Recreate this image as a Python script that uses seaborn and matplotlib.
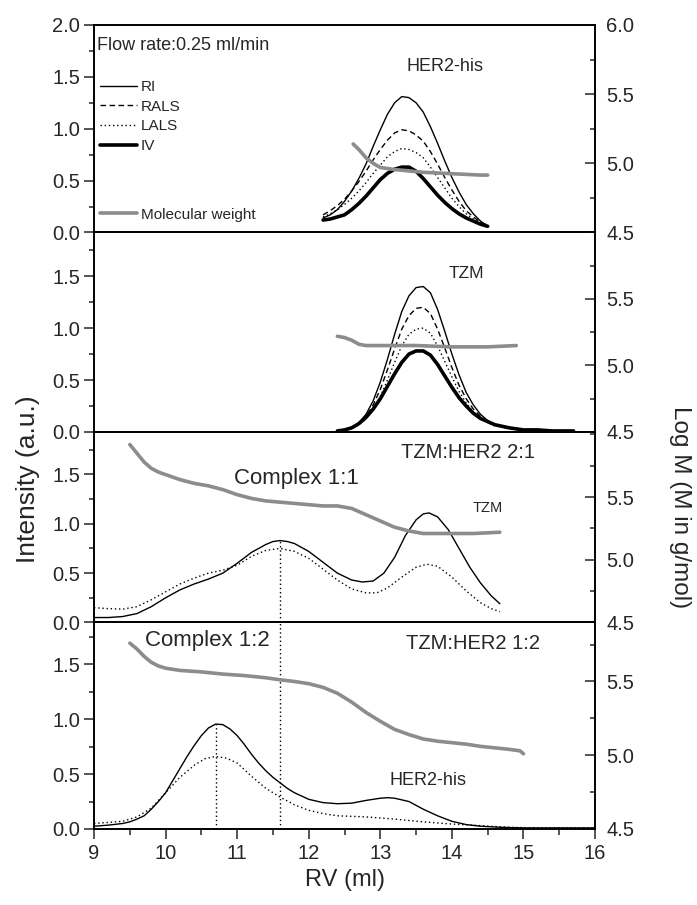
import numpy as np
import matplotlib
matplotlib.use("Agg")
import matplotlib.pyplot as plt
from matplotlib.ticker import MultipleLocator, FixedLocator, FormatStrFormatter
import seaborn as sns

sns.set_theme(style="ticks")
plt.rcParams['font.family'] = ['Liberation Sans', 'DejaVu Sans']

#-----------------------------------------------------------------------
# panel 1: HER2-his
rv_her2 = [12.2, 12.3, 12.4, 12.5, 12.6, 12.7, 12.8, 12.9, 13.0, 13.1, 13.2, 13.3,
           13.4, 13.5, 13.6, 13.7, 13.8, 13.9, 14.0, 14.1, 14.2, 14.3, 14.4, 14.5]
her2_ri = [0.14, 0.17, 0.22, 0.30, 0.40, 0.52, 0.66, 0.83, 0.99, 1.14, 1.25, 1.31,
           1.30, 1.25, 1.16, 1.02, 0.86, 0.69, 0.53, 0.39, 0.27, 0.18, 0.11, 0.06]
her2_rals = [0.17, 0.21, 0.26, 0.32, 0.40, 0.49, 0.59, 0.70, 0.80, 0.89, 0.96, 0.99,
             0.98, 0.94, 0.88, 0.78, 0.66, 0.53, 0.41, 0.30, 0.21, 0.15, 0.10, 0.07]
her2_lals = [0.15, 0.18, 0.22, 0.27, 0.33, 0.40, 0.48, 0.57, 0.65, 0.73, 0.78, 0.81,
             0.80, 0.77, 0.72, 0.63, 0.53, 0.43, 0.33, 0.25, 0.18, 0.13, 0.09, 0.06]
her2_iv = [0.12, 0.13, 0.15, 0.17, 0.22, 0.28, 0.35, 0.43, 0.51, 0.57, 0.61, 0.63,
           0.63, 0.59, 0.52, 0.44, 0.36, 0.29, 0.23, 0.18, 0.14, 0.11, 0.08, 0.06]
rv_her2_mw = [12.62, 12.7, 12.8, 12.9, 13.0, 13.2, 13.4, 13.6, 13.8, 14.0, 14.2, 14.4, 14.5]
her2_mw = [5.14, 5.10, 5.04, 5.00, 4.97, 4.955, 4.945, 4.935, 4.93, 4.925, 4.92, 4.915, 4.915]

#-----------------------------------------------------------------------
# panel 2: TZM
rv_tzm = [12.4, 12.5, 12.6, 12.7, 12.8, 12.9, 13.0, 13.1, 13.2, 13.3, 13.4, 13.5, 13.6,
          13.7, 13.8, 13.9, 14.0, 14.1, 14.2, 14.3, 14.4, 14.5, 14.6, 14.8, 15.0, 15.2, 15.4, 15.7]
tzm_ri = [0.01, 0.02, 0.04, 0.09, 0.17, 0.30, 0.48, 0.70, 0.94, 1.16, 1.31, 1.39, 1.40,
          1.34, 1.18, 0.97, 0.75, 0.55, 0.38, 0.26, 0.17, 0.11, 0.07, 0.04, 0.02, 0.01, 0.01, 0.0]
tzm_rals = [0.01, 0.02, 0.04, 0.08, 0.15, 0.26, 0.41, 0.60, 0.80, 0.99, 1.12, 1.19, 1.20,
            1.14, 0.99, 0.81, 0.62, 0.45, 0.32, 0.22, 0.15, 0.10, 0.07, 0.04, 0.02, 0.01, 0.01, 0.0]
tzm_lals = [0.01, 0.02, 0.03, 0.07, 0.13, 0.22, 0.34, 0.50, 0.67, 0.83, 0.94, 0.99, 1.00,
            0.95, 0.83, 0.68, 0.53, 0.39, 0.28, 0.19, 0.13, 0.09, 0.06, 0.04, 0.02, 0.01, 0.01, 0.0]
tzm_iv = [0.01, 0.02, 0.04, 0.08, 0.14, 0.22, 0.32, 0.44, 0.56, 0.67, 0.75, 0.78, 0.78,
          0.74, 0.65, 0.54, 0.43, 0.33, 0.25, 0.18, 0.13, 0.10, 0.07, 0.04, 0.02, 0.02, 0.01, 0.01]
rv_tzm_mw = [12.4, 12.5, 12.6, 12.7, 12.8, 13.0, 13.5, 14.0, 14.5, 14.9]
tzm_mw = [5.22, 5.21, 5.19, 5.16, 5.15, 5.15, 5.15, 5.14, 5.14, 5.15]

#-----------------------------------------------------------------------
# panel 3: TZM:HER2 2:1
rv_c21 = [9.0, 9.2, 9.4, 9.6, 9.8, 10.0, 10.2, 10.4, 10.6, 10.8, 11.0, 11.2, 11.4, 11.5,
          11.6, 11.7, 11.8, 12.0, 12.2, 12.4, 12.6, 12.75, 12.9, 13.05, 13.2, 13.35, 13.5,
          13.6, 13.68, 13.8, 13.95, 14.1, 14.25, 14.4, 14.55, 14.67]
c21_ri = [0.05, 0.05, 0.06, 0.09, 0.16, 0.25, 0.33, 0.39, 0.44, 0.50, 0.60, 0.71, 0.79, 0.82,
          0.83, 0.82, 0.80, 0.72, 0.61, 0.50, 0.43, 0.41, 0.42, 0.50, 0.66, 0.88, 1.04,
          1.10, 1.11, 1.07, 0.94, 0.75, 0.56, 0.40, 0.27, 0.19]
rv_c21_ls = [9.0, 9.2, 9.4, 9.6, 9.8, 10.0, 10.2, 10.4, 10.6, 10.8, 11.0, 11.2, 11.4, 11.6,
             11.8, 12.0, 12.2, 12.4, 12.6, 12.8, 12.95, 13.1, 13.3, 13.5, 13.65, 13.8, 14.0,
             14.2, 14.4, 14.55, 14.67]
c21_lals = [0.15, 0.14, 0.135, 0.16, 0.23, 0.31, 0.39, 0.45, 0.50, 0.53, 0.58, 0.67, 0.73, 0.75,
            0.72, 0.65, 0.54, 0.43, 0.34, 0.30, 0.30, 0.35, 0.46, 0.56, 0.59, 0.57, 0.46,
            0.32, 0.20, 0.14, 0.11]
rv_c21_mw = [9.5, 9.6, 9.7, 9.8, 9.9, 10.0, 10.2, 10.4, 10.6, 10.8, 11.0, 11.2, 11.4, 11.6,
             11.8, 12.0, 12.2, 12.4, 12.6, 12.8, 13.0, 13.2, 13.4, 13.6, 13.8, 14.0, 14.3, 14.67]
c21_mw = [5.92, 5.85, 5.78, 5.73, 5.70, 5.68, 5.64, 5.61, 5.59, 5.56, 5.52, 5.49, 5.47, 5.46,
          5.45, 5.44, 5.43, 5.43, 5.41, 5.36, 5.31, 5.26, 5.23, 5.21, 5.21, 5.21, 5.21, 5.22]

#-----------------------------------------------------------------------
# panel 4: TZM:HER2 1:2
rv_c12 = [9.0, 9.2, 9.4, 9.5, 9.6, 9.7, 9.8, 9.9, 10.0, 10.1, 10.2, 10.3, 10.4, 10.5, 10.6,
          10.7, 10.8, 10.9, 11.0, 11.1, 11.2, 11.3, 11.4, 11.5, 11.6, 11.7, 11.8, 12.0, 12.2,
          12.4, 12.6, 12.8, 13.0, 13.1, 13.2, 13.4, 13.6, 13.8, 14.0, 14.2, 14.4, 14.7, 15.0, 16.0]
c12_ri = [0.025, 0.035, 0.05, 0.065, 0.09, 0.12, 0.18, 0.25, 0.33, 0.44, 0.55, 0.66, 0.76, 0.85,
          0.92, 0.955, 0.95, 0.91, 0.85, 0.77, 0.68, 0.60, 0.53, 0.47, 0.42, 0.37, 0.33, 0.27,
          0.24, 0.23, 0.235, 0.26, 0.28, 0.285, 0.28, 0.25, 0.18, 0.12, 0.07, 0.04, 0.025,
          0.015, 0.01, 0.01]
rv_c12_ls = [9.0, 9.2, 9.4, 9.6, 9.8, 10.0, 10.2, 10.4, 10.55, 10.7, 10.85, 11.0, 11.2, 11.4,
             11.6, 11.8, 12.0, 12.2, 12.4, 12.8, 13.2, 13.6, 14.0, 14.4, 14.8, 15.2, 16.0]
c12_lals = [0.05, 0.06, 0.07, 0.11, 0.19, 0.33, 0.47, 0.58, 0.64, 0.66, 0.645, 0.60, 0.48, 0.37,
            0.29, 0.22, 0.17, 0.14, 0.12, 0.11, 0.09, 0.065, 0.045, 0.03, 0.015, 0.01, 0.01]
rv_c12_mw = [9.5, 9.6, 9.7, 9.8, 9.9, 10.0, 10.2, 10.5, 10.8, 11.1, 11.4, 11.62, 11.8, 12.0,
             12.2, 12.4, 12.6, 12.8, 13.0, 13.2, 13.4, 13.6, 13.8, 14.0, 14.2, 14.4, 14.6,
             14.8, 14.95, 15.0]
c12_mw = [5.76, 5.72, 5.67, 5.63, 5.605, 5.59, 5.575, 5.565, 5.55, 5.54, 5.525, 5.51, 5.50,
          5.485, 5.46, 5.42, 5.36, 5.29, 5.23, 5.175, 5.14, 5.11, 5.095, 5.085, 5.075, 5.06,
          5.05, 5.04, 5.03, 5.01]

#-----------------------------------------------------------------------
fig = plt.figure(figsize=(6.97, 9.05), dpi=100)
gs = fig.add_gridspec(4, 1, height_ratios=[207, 199, 190, 206], hspace=0,
                      left=0.1349, right=0.8537, top=0.9724, bottom=0.084)
axes = [fig.add_subplot(gs[i]) for i in range(4)]
twins = [a.twinx() for a in axes]

grey = '#8c8c8c'
dashed = (0, (4, 2.5))
dotted = (0, (1, 2))

def curve(ax, x, y, ls='-', lw=1.0, color='black'):
    sns.lineplot(x=x, y=y, ax=ax, color=color, linestyle=ls, linewidth=lw, sort=False,
                 estimator=None)
    return ax.lines[-1]

# panel 1
ax, tw = axes[0], twins[0]
h_ri = curve(ax, rv_her2, her2_ri)
h_rals = curve(ax, rv_her2, her2_rals, ls=dashed)
h_lals = curve(ax, rv_her2, her2_lals, ls=dotted)
h_iv = curve(ax, rv_her2, her2_iv, lw=2.6)
h_mw = curve(tw, rv_her2_mw, her2_mw, color=grey, lw=2.6)

# panel 2
ax, tw = axes[1], twins[1]
curve(ax, rv_tzm, tzm_ri)
curve(ax, rv_tzm, tzm_rals, ls=dashed)
curve(ax, rv_tzm, tzm_lals, ls=dotted)
curve(ax, rv_tzm, tzm_iv, lw=2.6)
curve(tw, rv_tzm_mw, tzm_mw, color=grey, lw=2.6)

# panel 3
ax, tw = axes[2], twins[2]
curve(ax, rv_c21, c21_ri)
curve(ax, rv_c21_ls, c21_lals, ls=dotted)
curve(tw, rv_c21_mw, c21_mw, color=grey, lw=2.6)

# panel 4
ax, tw = axes[3], twins[3]
curve(ax, rv_c12, c12_ri)
curve(ax, rv_c12_ls, c12_lals, ls=dotted)
curve(tw, rv_c12_mw, c12_mw, color=grey, lw=2.6)

# dotted guide lines at the complex peaks
i1 = int(np.argmax(c21_ri[:20]))
i2 = int(np.argmax(c12_ri))
left_top = [2.0, 1.92, 1.93, 1.88]
right_top = [6.0, 6.0, 6.02, 5.9]
axes[2].vlines(rv_c21[i1], 0, c21_ri[i1], colors='black', linestyles=dotted, lw=1.0)
axes[3].vlines(rv_c21[i1], 0, left_top[3], colors='black', linestyles=dotted, lw=1.0)
axes[3].vlines(rv_c12[i2], 0, c12_ri[i2], colors='black', linestyles=dotted, lw=1.0)

# limits and ticks
for i, (ax, tw) in enumerate(zip(axes, twins)):
    ax.set_xlim(9, 16)
    ax.set_ylim(0, left_top[i])
    tw.set_ylim(4.5, right_top[i])
    if i == 0:
        ax.yaxis.set_major_locator(FixedLocator([0, 0.5, 1.0, 1.5, 2.0]))
        tw.yaxis.set_major_locator(FixedLocator([4.5, 5.0, 5.5, 6.0]))
    else:
        ax.yaxis.set_major_locator(FixedLocator([0, 0.5, 1.0, 1.5]))
        tw.yaxis.set_major_locator(FixedLocator([4.5, 5.0, 5.5]))
    ax.yaxis.set_minor_locator(MultipleLocator(0.25))
    tw.yaxis.set_minor_locator(MultipleLocator(0.25))
    ax.yaxis.set_major_formatter(FormatStrFormatter('%.1f'))
    tw.yaxis.set_major_formatter(FormatStrFormatter('%.1f'))
    ax.tick_params(axis='y', which='major', direction='out', length=7, width=1.1,
                   labelsize=14.5, pad=3)
    ax.tick_params(axis='y', which='minor', direction='out', length=3.5, width=1.1)
    tw.tick_params(axis='y', which='major', direction='in', length=7, width=1.1,
                   labelsize=14.5, pad=8)
    tw.tick_params(axis='y', which='minor', direction='in', length=3.5, width=1.1)
    ax.set_xlabel('')
    ax.set_ylabel('')
    tw.set_ylabel('')
    for a in (ax, tw):
        for s in a.spines.values():
            s.set_linewidth(1.2)
            s.set_color('black')
    if i < 3:
        ax.tick_params(axis='x', which='both', bottom=False, labelbottom=False)
    else:
        ax.xaxis.set_major_locator(MultipleLocator(1))
        ax.xaxis.set_minor_locator(MultipleLocator(0.5))
        ax.tick_params(axis='x', which='major', direction='out', length=7, width=1.1,
                       labelsize=14.5, pad=4)
        ax.tick_params(axis='x', which='minor', direction='out', length=4, width=1.1)

# texts
a0 = axes[0]
a0.text(9.04, 1.80, 'Flow rate:0.25 ml/min', fontsize=13, va='center', ha='left')
a0.text(13.9, 1.60, 'HER2-his', fontsize=13, va='center', ha='center')
axes[1].text(14.2, 1.53, 'TZM', fontsize=12.5, va='center', ha='center')
axes[2].text(14.23, 1.72, 'TZM:HER2 2:1', fontsize=14.5, va='center', ha='center')
axes[2].text(11.83, 1.46, 'Complex 1:1', fontsize=16, va='center', ha='center')
axes[2].text(14.5, 1.16, 'TZM', fontsize=10.5, va='center', ha='center')
axes[3].text(10.59, 1.72, 'Complex 1:2', fontsize=16, va='center', ha='center')
axes[3].text(14.29, 1.69, 'TZM:HER2 1:2', fontsize=14.5, va='center', ha='center')
axes[3].text(13.67, 0.44, 'HER2-his', fontsize=13, va='center', ha='center')

# legends
tw0 = twins[0]
leg1 = tw0.legend(handles=[h_ri, h_rals, h_lals, h_iv], labels=['RI', 'RALS', 'LALS', 'IV'],
                  loc='upper left', bbox_to_anchor=(0.012, 0.735), frameon=False,
                  fontsize=11, handlelength=2.4, handletextpad=0.25, labelspacing=0.37,
                  borderpad=0, borderaxespad=0)
tw0.add_artist(leg1)
tw0.legend(handles=[h_mw], labels=['Molecular weight'], loc='upper left',
           bbox_to_anchor=(0.012, 0.12), frameon=False, fontsize=11, handlelength=2.4,
           handletextpad=0.25, borderpad=0, borderaxespad=0)

fig.text(0.04, 0.47, 'Intensity (a.u.)', rotation=90, fontsize=19, va='center', ha='center')
fig.text(0.976, 0.44, 'Log M (M in g/mol)', rotation=270, fontsize=17.5, va='center', ha='center')
fig.text(0.495, 0.028, 'RV (ml)', fontsize=17, va='center', ha='center')

plt.savefig('out.png', dpi=100)
